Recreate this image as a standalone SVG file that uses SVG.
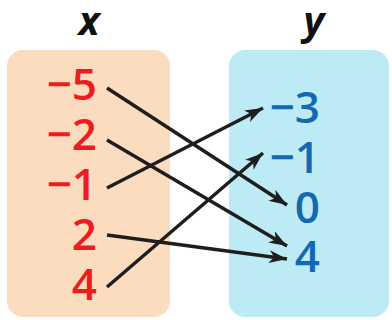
<svg xmlns="http://www.w3.org/2000/svg" width="392" height="320" viewBox="0 0 392 320">
<defs>
<style>
.hdr{font-family:"Open Sans","Liberation Sans",sans-serif;font-weight:bold;font-style:italic;font-size:40px;fill:#111;text-anchor:middle}
.xv{font-family:"Open Sans","Liberation Sans",sans-serif;font-weight:600;font-size:44px;fill:#EE1C1C;text-anchor:end}
.yv{font-family:"Open Sans","Liberation Sans",sans-serif;font-weight:600;font-size:44px;fill:#1268B3;text-anchor:end}
.ln{stroke:#1E1E1E;stroke-width:3.5;fill:none;marker-end:url(#ah)}
</style>
<marker id="ah" markerUnits="userSpaceOnUse" markerWidth="20" markerHeight="14" refX="18" refY="6.5" orient="auto">
<path d="M0,0 L18,6.5 L0,13 L5,6.5 z" fill="#1E1E1E"/>
</marker>
</defs>
<rect width="392" height="320" fill="#fff"/>
<g id="domain">
<rect x="7" y="50" width="163" height="267" rx="16" fill="#FCDCBE"/>
<text class="hdr" x="89" y="35">x</text>
<text class="xv" x="97" y="100">−5</text>
<text class="xv" x="97" y="150">−2</text>
<text class="xv" x="97" y="200">−1</text>
<text class="xv" x="97" y="250">2</text>
<text class="xv" x="97" y="300">4</text>
</g>
<g id="range">
<rect x="229" y="50" width="160" height="267" rx="16" fill="#BCEBF5"/>
<text class="hdr" x="314" y="35">y</text>
<text class="yv" x="320" y="123">−3</text>
<text class="yv" x="320" y="173">−1</text>
<text class="yv" x="320" y="223">0</text>
<text class="yv" x="320" y="272">4</text>
</g>
<g id="connectors">
<line class="ln" x1="107" y1="88" x2="287" y2="205"/>
<line class="ln" x1="107" y1="140" x2="287" y2="246"/>
<line class="ln" x1="107" y1="188" x2="263" y2="108"/>
<line class="ln" x1="107" y1="235" x2="287" y2="259"/>
<line class="ln" x1="107" y1="287" x2="263" y2="153"/>
</g>
</svg>
